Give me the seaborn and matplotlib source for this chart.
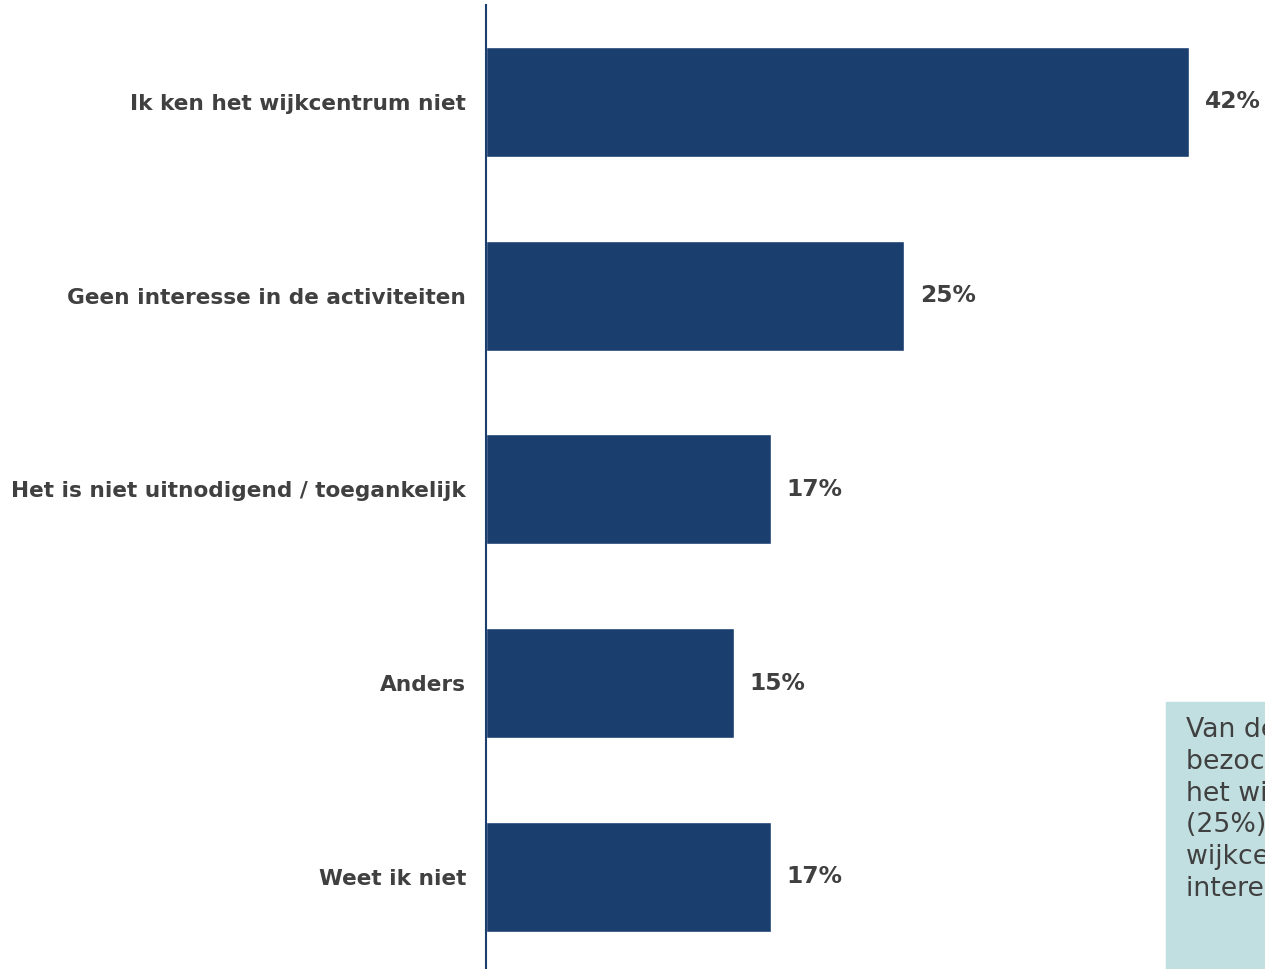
import matplotlib
matplotlib.use("Agg")
import matplotlib.pyplot as plt
import seaborn as sns
import pandas as pd
from matplotlib.patches import Rectangle

categories = [
    "Ik ken het wijkcentrum niet",
    "Geen interesse in de activiteiten",
    "Het is niet uitnodigend / toegankelijk",
    "Anders",
    "Weet ik niet",
]
values = [42, 25, 17, 14.8, 17]
value_labels = ["42%", "25%", "17%", "15%", "17%"]
note_lines = [
    "Van de bewoners die het wijkcentrum",
    "bezochten niet, kent 42%",
    "het wijkcentrum niet. Een kwart",
    "(25%) bezoekt het",
    "wijkcentrum niet uit gebrek aan",
    "interesse in de activiteiten.",
]

navy = "#1a3f6f"
text_col = "#404040"

sns.set_style("white")
plt.rcParams["font.family"] = ["DejaVu Sans"]

df = pd.DataFrame({"categorie": categories, "pct": values})

fig = plt.figure(figsize=(12.65, 9.69), dpi=100)
ax = fig.add_axes([486 / 1265, 0, 1 - 486 / 1265, 1 - 5 / 969])

sns.barplot(data=df, x="pct", y="categorie", orient="h", color=navy,
            saturation=1, width=0.568, ax=ax)

ax.set_xlim(0, 779 / 16.74)
ax.set_ylim(4.475, -0.5)
ax.set_xlabel("")
ax.set_ylabel("")
ax.set_xticks([])
ax.tick_params(axis="y", length=0, pad=14.4)
for lab in ax.get_yticklabels():
    lab.set_fontweight("bold")
    lab.set_fontsize(15.6)
    lab.set_color(text_col)

sns.despine(ax=ax, top=True, right=True, bottom=True, left=False)
ax.spines["left"].set_color(navy)
ax.spines["left"].set_linewidth(1.5)

ax.bar_label(ax.containers[0], labels=value_labels, padding=11.5,
             fontsize=16.8, fontweight="bold", color=text_col)

# note box in lower right corner, cut off by the figure edge
fig.patches.append(Rectangle((1166 / 1265, 0), 0.2, 1 - 702 / 969,
                             transform=fig.transFigure, color="#c1dfe0",
                             zorder=0))
fig.text(1186 / 1265, 1 - 717 / 969, "\n".join(note_lines), ha="left",
         va="top", fontsize=19.3, color=text_col, linespacing=1.29)

fig.savefig("out.png", dpi=100)
